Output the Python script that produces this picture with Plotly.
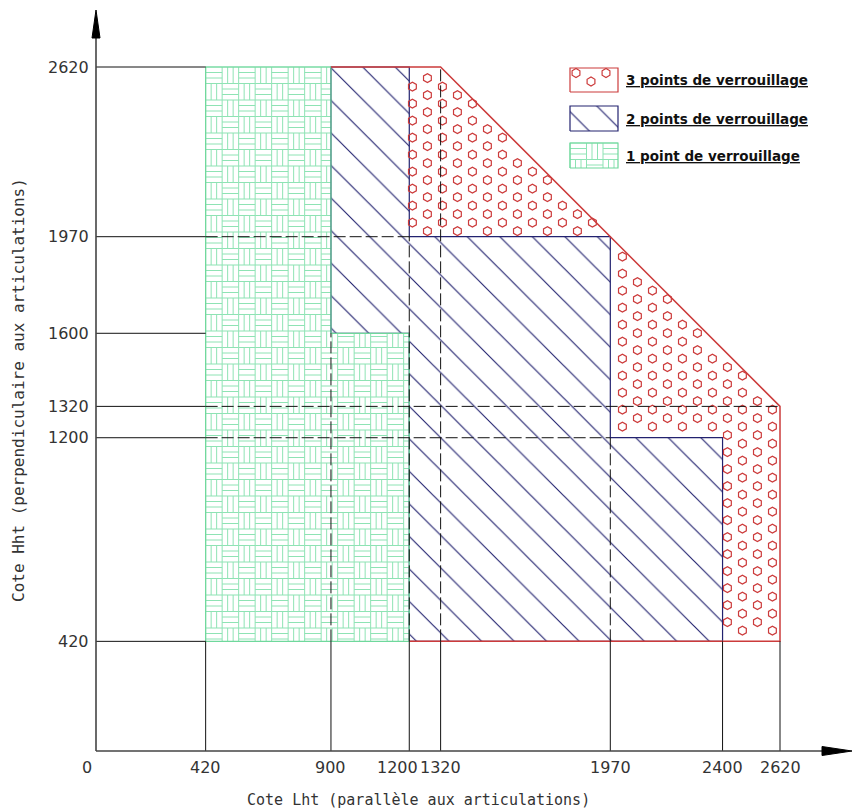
import plotly.graph_objects as go

# ---------------- data ----------------
X_TICKS = [420, 900, 1200, 1320, 1970, 2400, 2620]
Y_TICKS = [420, 1200, 1320, 1600, 1970, 2620]
X_TICK_TEXT = ["420", "900", "1200", "1320", "1970", "2400", "2620"]
Y_TICK_TEXT = ["420", "1200", "1320", "1600", "1970", "2620"]

# zone 1 : 1 point de verrouillage
ZONE1_LHT = [420, 1200, 1200, 900, 900, 420, 420]
ZONE1_HHT = [420, 420, 1600, 1600, 2620, 2620, 420]
ZONE1_RECTS = [(420, 900, 420, 2620), (900, 1200, 420, 1600)]
# zone 2 : 2 points de verrouillage
ZONE2_LHT = [900, 1200, 1200, 2400, 2400, 1970, 1970, 1200, 1200, 900, 900]
ZONE2_HHT = [1600, 1600, 420, 420, 1200, 1200, 1970, 1970, 2620, 2620, 1600]
# zone 3 : 3 points de verrouillage
ZONE3_LHT = [1200, 1320, 2620, 2620, 2400, 2400, 1970, 1970, 1200, 1200]
ZONE3_HHT = [2620, 2620, 1320, 420, 420, 1200, 1200, 1970, 1970, 2620]
# outer envelope (3 points)
ENV_LHT = [900, 1320, 2620, 2620, 1200]
ENV_HHT = [2620, 2620, 1320, 420, 420]

# dashed guides : (constant value, start, end)
H_GUIDES = [(1970, 420, 1200), (1320, 420, 2620), (1200, 420, 1970)]
V_GUIDES = [(900, 420, 1600), (1200, 420, 1970), (1320, 420, 2620), (1970, 420, 1200)]
BASE = 420

LEGEND_LABELS = ["3 points de verrouillage", "2 points de verrouillage", "1 point de verrouillage"]
X_TITLE = "Cote Lht (parallèle aux articulations)"
Y_TITLE = "Cote Hht (perpendiculaire aux articulations)"

# ---------------- styling / geometry helpers ----------------
PAGE = 8                    # browser body margin
WIN_W, WIN_H = 860, 812
W, H = WIN_W - PAGE, WIN_H - PAGE
OX, OY = 96, 751            # origin in window pixels
PADPX = 20                  # room left/below the axes inside the plot area
ML = OX - PAGE - PADPX
MB = H - (OY - PAGE) - PADPX
S = 684 / 2620.0            # px per unit
XMIN = -PADPX / S
YMIN = -PADPX / S
XMAX = (WIN_W - OX) / S     # right edge of window
YMAX = (OY - PAGE) / S      # top edge of figure


def ux(px):   # window pixel x -> data
    return (px - OX) / S


def uy(py):   # window pixel y -> data
    return (OY - py) / S


GREEN = "#8ee3b4"
GREEN_EDGE = "#6fd89c"
BLUE = "#22226f"
RED = "#cc3b3b"
DASH = "12px,4px"
FONT = "DejaVu Sans"
MONO = "DejaVu Sans Mono"


def inside(px, py, xs, ys):
    c = False
    n = len(xs)
    j = n - 1
    for i in range(n):
        if ((ys[i] > py) != (ys[j] > py)) and \
                (px < (xs[j] - xs[i]) * (py - ys[i]) / (ys[j] - ys[i]) + xs[i]):
            c = not c
        j = i
    return c


def hex_grid(xs, ys, x0, y0, x1, y1, dx, dy, m):
    hx, hy = [], []
    col = 0
    x = x0
    while x <= x1:
        y = y1 - (dy / 2 if col % 2 else 0)
        while y >= y0:
            if all(inside(x + a, y + b, xs, ys) for a, b in ((0, 0), (m, 0), (-m, 0), (0, m), (0, -m))):
                hx.append(x)
                hy.append(y)
            y -= dy
        x += dx
        col += 1
    return hx, hy


def weave(rects, gx0, gy1, c):
    lx, ly = [], []

    def seg(xa, ya, xb, yb, r):
        rx0, rx1, ry0, ry1 = r
        if ya == yb:
            if not (ry0 <= ya <= ry1):
                return
            a, b = max(xa, rx0), min(xb, rx1)
            if a < b:
                lx.extend([a, b, None]); ly.extend([ya, ya, None])
        else:
            if not (rx0 <= xa <= rx1):
                return
            a, b = max(ya, ry0), min(yb, ry1)
            if a < b:
                lx.extend([xa, xa, None]); ly.extend([a, b, None])

    for r in rects:
        rx0, rx1, ry0, ry1 = r
        i0 = int((rx0 - gx0) // c) - 1
        i1 = int((rx1 - gx0) // c) + 1
        j0 = int((gy1 - ry1) // c) - 1
        j1 = int((gy1 - ry0) // c) + 1
        for i in range(i0, i1 + 1):
            for j in range(j0, j1 + 1):
                cx0 = gx0 + i * c
                cy1 = gy1 - j * c
                cy0 = cy1 - c
                seg(cx0, cy0, cx0 + c, cy0, r)
                seg(cx0, cy0, cx0, cy1, r)
                if (i + j) % 2 == 0:
                    for k in (1, 2):
                        yy = cy0 + k * c / 3
                        seg(cx0, yy, cx0 + c, yy, r)
                else:
                    for k in (1, 2):
                        xx = cx0 + k * c / 3
                        seg(xx, cy0, xx, cy1, r)
    return lx, ly


HATCH = dict(shape="\\", fgcolor=BLUE, fgopacity=1, bgcolor="rgba(255,255,255,0)",
             size=23, solidity=0.05)
HEX_MARK = dict(symbol="hexagon-open", size=9, color=RED, line=dict(width=1.2, color=RED))

fig = go.Figure()

# ---- zone 1 texture (basket weave) ----
wx, wy = weave(ZONE1_RECTS, ZONE1_LHT[0], ZONE1_HHT[4], 16.5 / S)
fig.add_trace(go.Scatter(x=wx, y=wy, mode="lines", line=dict(color=GREEN, width=1),
                         hoverinfo="skip", showlegend=False))

# ---- zone 2 hatch ----
fig.add_trace(go.Scatter(x=ZONE2_LHT, y=ZONE2_HHT, mode="lines", fill="toself",
                         fillcolor="rgba(0,0,0,0)", fillpattern=HATCH,
                         line=dict(color=BLUE, width=1.2), hoverinfo="skip", showlegend=False))

# ---- zone 3 hexagons ----
hx, hy = hex_grid(ZONE3_LHT, ZONE3_HHT, 1200 + 12, 420, 2620, 2620 - 10, 15 / S, 17 / S, 12)
fig.add_trace(go.Scatter(x=hx, y=hy, mode="markers", marker=HEX_MARK,
                         hoverinfo="skip", showlegend=False))

# ---- zone 1 outline ----
fig.add_trace(go.Scatter(x=ZONE1_LHT, y=ZONE1_HHT, mode="lines",
                         line=dict(color=GREEN_EDGE, width=1.2), hoverinfo="skip", showlegend=False))

# ---- envelope (red) ----
fig.add_trace(go.Scatter(x=ENV_LHT, y=ENV_HHT, mode="lines",
                         line=dict(color=RED, width=1.5), hoverinfo="skip", showlegend=False))

# ---- dashed guides ----
dx, dy = [], []
for v, a, b in H_GUIDES:
    dx.extend([a, b, None]); dy.extend([v, v, None])
for v, a, b in V_GUIDES:
    dx.extend([v, v, None]); dy.extend([a, b, None])
fig.add_trace(go.Scatter(x=dx, y=dy, mode="lines", line=dict(color="#111", width=1, dash=DASH),
                         hoverinfo="skip", showlegend=False))

# ---- solid reference lines from axes to the base ----
sx, sy = [], []
for v in Y_TICKS:
    sx.extend([0, BASE, None]); sy.extend([v, v, None])
for v in X_TICKS:
    sx.extend([v, v, None]); sy.extend([0, BASE, None])
fig.add_trace(go.Scatter(x=sx, y=sy, mode="lines", line=dict(color="#111", width=1),
                         hoverinfo="skip", showlegend=False))

# ---- axes with arrows ----
XA_BASE, XA_TIP, XA_HW = ux(822), ux(852), 4.5 / S
YA_BASE, YA_TIP, YA_HW = uy(38), uy(10), 4 / S
fig.add_trace(go.Scatter(x=[0, XA_BASE, None, 0, 0], y=[0, 0, None, 0, YA_BASE], mode="lines",
                         line=dict(color="#444", width=1.6), hoverinfo="skip", showlegend=False))
fig.add_trace(go.Scatter(x=[XA_BASE, XA_TIP, XA_BASE, XA_BASE], y=[XA_HW, 0, -XA_HW, XA_HW],
                         mode="lines", fill="toself", fillcolor="#000", line=dict(color="#000", width=1),
                         hoverinfo="skip", showlegend=False))
fig.add_trace(go.Scatter(x=[-YA_HW, 0, YA_HW, -YA_HW], y=[YA_BASE, YA_TIP, YA_BASE, YA_BASE],
                         mode="lines", fill="toself", fillcolor="#000", line=dict(color="#000", width=1),
                         hoverinfo="skip", showlegend=False))

# ---- legend ----
LEG_X0, LEG_X1 = ux(570), ux(618)
LEG_ROWS = [(68, 92), (106, 131), (143, 168)]
bx = [LEG_X0, LEG_X1, LEG_X1, LEG_X0, LEG_X0]
# row 1 : hexagons
r0, r1 = LEG_ROWS[0]
by = [uy(r1), uy(r1), uy(r0), uy(r0), uy(r1)]
lhx, lhy = hex_grid(bx, by, LEG_X0 + 6 / S, uy(r1), LEG_X1, uy(r0) - 5 / S, 15 / S, 17 / S, 12)
fig.add_trace(go.Scatter(x=lhx, y=lhy, mode="markers", marker=HEX_MARK,
                         hoverinfo="skip", showlegend=False))
fig.add_trace(go.Scatter(x=bx, y=by, mode="lines", line=dict(color=RED, width=1.2),
                         hoverinfo="skip", showlegend=False))
# row 2 : hatch
r0, r1 = LEG_ROWS[1]
by = [uy(r1), uy(r1), uy(r0), uy(r0), uy(r1)]
fig.add_trace(go.Scatter(x=bx, y=by, mode="lines", fill="toself", fillcolor="rgba(0,0,0,0)",
                         fillpattern=HATCH, line=dict(color=BLUE, width=1.2),
                         hoverinfo="skip", showlegend=False))
# row 3 : weave
r0, r1 = LEG_ROWS[2]
by = [uy(r1), uy(r1), uy(r0), uy(r0), uy(r1)]
lwx, lwy = weave([(LEG_X0, LEG_X1, uy(r1), uy(r0))], LEG_X0, uy(r0), 16.5 / S)
fig.add_trace(go.Scatter(x=lwx, y=lwy, mode="lines", line=dict(color=GREEN, width=1),
                         hoverinfo="skip", showlegend=False))
fig.add_trace(go.Scatter(x=bx, y=by, mode="lines", line=dict(color=GREEN_EDGE, width=1.2),
                         hoverinfo="skip", showlegend=False))

ann = []
for (r0, r1), lab in zip(LEG_ROWS, LEGEND_LABELS):
    ann.append(dict(x=ux(624), y=uy((r0 + r1) / 2), xref="x", yref="y", text="<u>" + lab + "</u>",
                    showarrow=False, xanchor="left", yanchor="middle",
                    font=dict(family=FONT, size=13.5, color="#111", weight="bold")))

# ---- tick labels ----
TICK_FONT = dict(family=FONT, size=16, color="#333")
X_SHIFT = {1200: -12}
for v, t in zip(X_TICKS, X_TICK_TEXT):
    ann.append(dict(x=v, y=0, xref="x", yref="y", text=t, showarrow=False, xanchor="center",
                    yanchor="middle", yshift=-16, xshift=X_SHIFT.get(v, 0), font=TICK_FONT))
for v, t in zip(Y_TICKS, Y_TICK_TEXT):
    ann.append(dict(x=0, y=v, xref="x", yref="y", text=t, showarrow=False, xanchor="right",
                    yanchor="middle", xshift=-5, font=TICK_FONT))
ann.append(dict(x=0, y=0, xref="x", yref="y", text="0", showarrow=False, xanchor="center",
                yanchor="middle", xshift=-9, yshift=-16, font=TICK_FONT))

# ---- axis titles ----
ann.append(dict(x=ux(418), y=0, xref="x", yref="y", text=X_TITLE, showarrow=False,
                xanchor="center", yanchor="middle", yshift=-49, borderpad=0,
                font=dict(family=MONO, size=15, color="#333")))
ann.append(dict(x=0, y=uy(390), xref="x", yref="y", text=Y_TITLE, showarrow=False, textangle=-90,
                xanchor="center", yanchor="middle", xshift=-78, borderpad=0,
                font=dict(family=MONO, size=16, color="#333")))

hidden = dict(visible=False, showgrid=False, zeroline=False, showticklabels=False, fixedrange=True)
fig.update_layout(
    width=W, height=H,
    margin=dict(l=ML, r=0, t=0, b=MB, pad=0),
    paper_bgcolor="white", plot_bgcolor="white",
    xaxis=dict(range=[XMIN, XMAX], **hidden),
    yaxis=dict(range=[YMIN, YMAX], **hidden),
    annotations=ann,
    showlegend=False,
)

fig.write_html("out.html")
